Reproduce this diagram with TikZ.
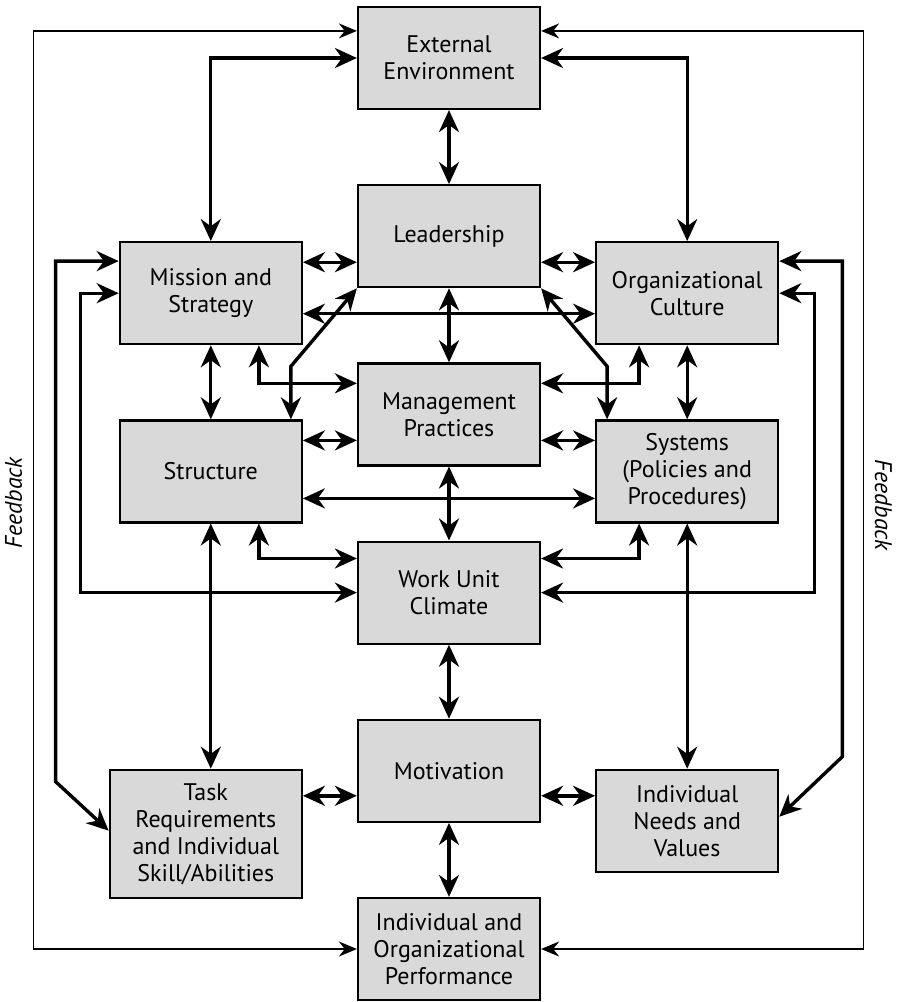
\documentclass[tikz,border=0pt]{standalone}
\usepackage{fontspec}
\setmainfont{PT Sans}
\usepackage{tikz}
\usetikzlibrary{arrows.meta, positioning}

\begin{document}
\begin{tikzpicture}[
    font=\fontsize{12pt}{13.5pt}\selectfont,
    box/.style={draw, line width=1.1pt, fill=black!15, minimum width=91pt, minimum height=51pt, align=center, inner sep=2pt},
    dbl/.style={{Stealth[length=11pt, width=10pt]}-{Stealth[length=11pt, width=10pt]}, line width=1.7pt},
    fbarr/.style={{Stealth[length=9pt, width=7.5pt]}-{Stealth[length=9pt, width=7.5pt]}, line width=0.75pt},
    fbtext/.style={font=\fontsize{12pt}{13.5pt}\selectfont\itshape},
]
\useasboundingbox (-224.5pt,29pt) rectangle (225pt,-472pt);

% centre column
\node[box] (ext) at (0,0) {External\\Environment};
\node[box, below=37pt of ext] (leader) {Leadership};
\node[box, below=37pt of leader] (mgmt) {Management\\Practices};
\node[box, below=37pt of mgmt] (wu) {Work Unit\\Climate};
\node[box, below=37pt of wu] (mot) {Motivation};
\node[box, below=37pt of mot] (perf) {Individual and\\Organizational\\Performance};

% side columns
\node[box, left=27pt of leader, yshift=-28.5pt] (mission) {Mission and\\Strategy};
\node[box, right=27pt of leader, yshift=-28.5pt] (culture) {Organizational\\Culture};
\node[box, left=27pt of mgmt, yshift=-28.5pt] (struct) {Structure};
\node[box, right=27pt of mgmt, yshift=-28.5pt] (systems) {Systems\\(Policies and\\Procedures)};
\node[box, minimum width=96pt, minimum height=64pt, anchor=north east] (task)
    at ([xshift=-27pt, yshift=-25pt]mot.north west) {Task\\Requirements\\and Individual\\Skill/Abilities};
\node[box, anchor=north west] (needs)
    at ([xshift=27pt, yshift=-25pt]mot.north east) {Individual\\Needs and\\Values};

% feedback loop
\coordinate (fbL) at ([xshift=-42.5pt]mission.west);
\coordinate (fbR) at ([xshift=42pt]culture.east);
\draw[fbarr] ([yshift=-12.5pt]ext.north west) -| (fbL) |- (perf.west);
\draw[fbarr] ([yshift=-12.5pt]ext.north east) -| (fbR) |- (perf.east);
\node[fbtext, rotate=90] (fbtextL) at ([xshift=-10pt, yshift=-222.5pt]fbL |- ext) {Feedback};
\node[fbtext, rotate=-90] (fbtextR) at ([xshift=10pt, yshift=-223.5pt]fbR |- ext) {Feedback};

% vertical links
\draw[dbl] (ext) -- (leader);
\draw[dbl] (leader) -- (mgmt);
\draw[dbl] (mgmt) -- (wu);
\draw[dbl] (wu) -- (mot);
\draw[dbl] (mot) -- (perf);
\draw[dbl] (mission) -- (struct);
\draw[dbl] (culture) -- (systems);
\draw[dbl] (struct) -- (struct |- task.north);
\draw[dbl] (systems) -- (needs);

% horizontal links
\draw[dbl] ([yshift=-13pt]leader.west) -- ([yshift=-13pt]leader.west -| mission.east);
\draw[dbl] ([yshift=-13pt]leader.east) -- ([yshift=-13pt]leader.east -| culture.west);
\draw[dbl] ([yshift=-13pt]mgmt.west) -- ([yshift=-13pt]mgmt.west -| struct.east);
\draw[dbl] ([yshift=-13pt]mgmt.east) -- ([yshift=-13pt]mgmt.east -| systems.west);
\draw[dbl] ([yshift=-12.5pt]mot.west) -- ([yshift=-12.5pt]mot.west -| task.east);
\draw[dbl] ([yshift=-12.5pt]mot.east) -- ([yshift=-12.5pt]mot.east -| needs.west);
\draw[dbl] ([yshift=-10.25pt]mission.east) -- ([yshift=-10.25pt]culture.west);
\draw[dbl] ([yshift=-13.5pt]struct.east) -- ([yshift=-13.5pt]systems.west);

% elbow links
\draw[dbl] (ext.west) -| (mission.north);
\draw[dbl] (ext.east) -| (culture.north);
\draw[dbl] ([xshift=-22pt]mission.south east) |- ([yshift=-10.5pt]mgmt.north west);
\draw[dbl] ([xshift=22pt]culture.south west) |- ([yshift=-10.5pt]mgmt.north east);
\draw[dbl] ([xshift=-22pt]struct.south east) |- ([yshift=-9pt]wu.north west);
\draw[dbl] ([xshift=22pt]systems.south west) |- ([yshift=-9pt]wu.north east);
\draw[dbl] (leader.south west) -- ([xshift=-6pt, yshift=26.5pt]struct.north east) -- ([xshift=-6pt]struct.north east);
\draw[dbl] (leader.south east) -- ([xshift=6pt, yshift=26.5pt]systems.north west) -- ([xshift=6pt]systems.north west);

% outer loops
\draw[dbl] ([yshift=-10pt]mission.north west) -| ([xshift=-26.5pt, yshift=-6.5pt]task.north west) -- ([yshift=-31pt]task.north west);
\draw[dbl] ([yshift=-10pt]culture.north east) -| ([xshift=31.5pt, yshift=6pt]needs.north east) -- ([yshift=-24pt]needs.north east);
\draw[dbl] (mission.west) -- ++(-19pt,0) |- (wu.west);
\draw[dbl] (culture.east) -- ++(17.5pt,0) |- (wu.east);

\end{tikzpicture}
\end{document}
